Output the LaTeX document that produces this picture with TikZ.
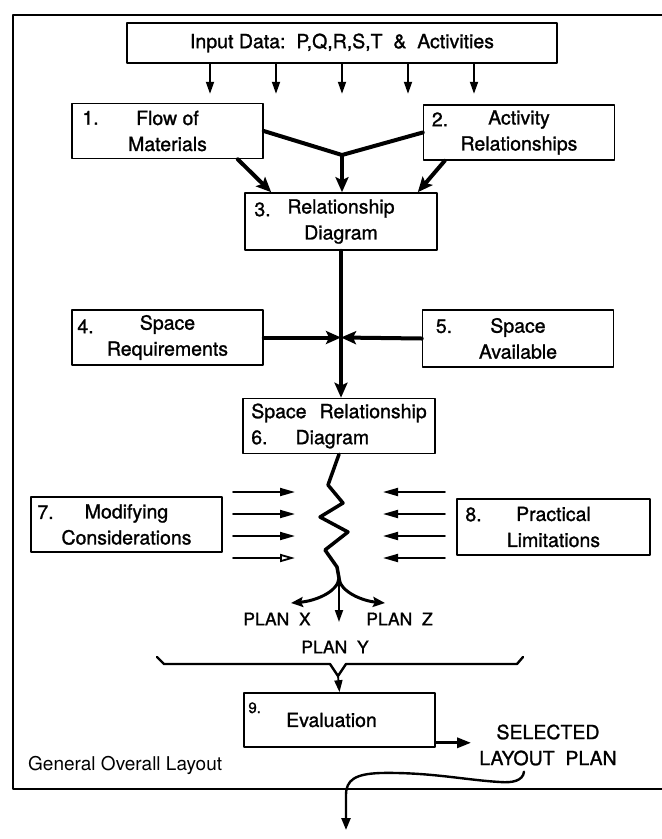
\documentclass[tikz,border=0pt]{standalone}
\usepackage{fontspec}
\setmainfont{TeX Gyre Heros}[FakeBold=1.2]
\newfontfamily\thinfont{TeX Gyre Heros}
\usetikzlibrary{arrows.meta,calc}

\begin{document}
\begin{tikzpicture}[x=1pt,y=-1pt,font=\fontsize{19.5}{26}\selectfont,line join=round,line cap=round,
  box/.style={draw,line width=1.6pt,minimum width=191pt,minimum height=55pt,align=center,inner sep=0pt},
  num/.style={anchor=north west,inner sep=0pt},
  heavy/.style={line width=4pt,-{Stealth[length=15pt,width=13pt,inset=3pt]}},
  branch/.style={line width=3pt,-{Stealth[length=12pt,width=10pt,inset=2pt]}},
  thinarr/.style={line width=1.8pt,-{Triangle[length=12pt,width=8pt]}},
  sidearr/.style={line width=1.8pt,-{Triangle[length=15pt,width=8pt]}},
  plan/.style={font=\fontsize{17.5}{20}\selectfont,inner sep=0pt}]
\useasboundingbox (0,0) rectangle (662,839);
% frame
\draw[line width=2.4pt] (662,15) -| (13,789) -- (662,789);
% input
\node[box,minimum width=430pt,minimum height=40pt] (input) at (342,43) {Input Data:\ \ P,Q,R,S,T\ \ \&\ \ Activities};
\foreach \dx in {-132,-66,0,66,132}
  \draw[thinarr] ([xshift=\dx pt]input.south) -- ++(0,30);
% boxes
\node[box] (flow) at (167.5,131) {Flow of\\Materials};
\node[num] at ($(flow.north west)+(11,8)$) {1.};
\node[box] (actv) at (519,132.5) {Activity\\Relationships};
\node[num] at ($(actv.north west)+(9,8)$) {2.};
\node[box,minimum width=192pt,minimum height=57pt] (reldiag) at (341,221.5) {Relationship\\Diagram};
\node[num] at ($(reldiag.north west)+(10,10)$) {3.};
\node[box] (spreq) at (167.5,337.5) {Space\\Requirements};
\node[num] at ($(spreq.north west)+(6,10)$) {4.};
\node[box,minimum height=57pt] (spav) at (518,338.5) {Space\\Available};
\node[num] at ($(spav.north west)+(14,10)$) {5.};
\node[box,minimum width=192pt,align=left] (srd) at (339,426) {Space\hspace{13pt}Relationship\\6.\hspace{28pt}Diagram};
\node[box] (modc) at (126.5,524.5) {Modifying\\Considerations};
\node[num] at ($(modc.north west)+(7,9)$) {7.};
\node[box,minimum width=193pt,minimum height=56pt] (pract) at (553.5,527) {Practical\\Limitations};
\node[num] at ($(pract.north west)+(9,9)$) {8.};
\node[box,minimum height=54pt] (eval) at (339.5,720) {\hspace*{-16pt}Evaluation};
\node[num,font=\fontsize{15}{17}\selectfont] at ($(eval.north west)+(5,10)$) {9.};
% labels
\node[plan] (planx) at (277,619) {PLAN\ \ X};
\node[plan] (planz) at (399.5,619) {PLAN\ \ Z};
\node[plan] (plany) at (335,647) {PLAN\ \ Y};
\node[align=center,inner sep=0pt] (sel) at (548,745) {SELECTED\\LAYOUT\ \ PLAN};
\node[anchor=base west,inner sep=0pt,font=\thinfont\fontsize{19}{22}\selectfont] (gen) at (28,770) {General Overall Layout};
% connectors
\coordinate (jn) at (342,155);
\draw[line width=4pt] (flow.east) -- (jn) -- (actv.west);
\draw[heavy] (jn) -- (jn |- reldiag.north);
\draw[heavy] ($(flow.south east)+(-26,0)$) -- ($(reldiag.north west)+(27,0)$);
\draw[heavy] ($(actv.south west)+(22,0)$) -- ($(reldiag.north east)+(-20,0)$);
\coordinate (cross) at (reldiag.south |- spreq.east);
\draw[line width=4pt] (reldiag.south) -- (cross);
\draw[heavy] (cross) -- (cross |- srd.north);
\draw[heavy] (spreq.east) -- (cross);
\draw[heavy] (spav.west) -- (cross);
% zigzag and plans
\draw[line width=3.5pt] (srd.south) -- (328,485) -- (343,503) -- (320,517) -- (348,532) -- (325,550) -- (337,567) -- (339,578) coordinate (br);
\draw[branch] (br) .. controls (338,592) and (315,601) .. (291,603);
\draw[branch] (br) .. controls (340,592) and (363,601) .. (385,603);
\draw[thinarr] (br) -- (339,622);
\foreach \yy in {492,514,536} {
  \draw[sidearr] (233,\yy) -- (295,\yy);
  \draw[sidearr] (445,\yy) -- (383,\yy);
}
\draw[line width=1.8pt,-{Triangle[open,length=15pt,width=8pt]}] (233,558) -- (295,558);
\draw[sidearr] (445,558) -- (383,558);
% brace
\draw[line width=2.4pt] (157,657) -- (164,664) -- (330,664) -- (338,676) coordinate (bt) -- (346,664) -- (517,664) -- (523,657);
\draw[thinarr] (bt) -- (eval.north);
% output
\coordinate (eo) at ([yshift=5pt]eval.south east);
\draw[line width=3pt,-{Triangle[length=14pt,width=10pt]}] (eo) -- ($(eo -| sel.west)+(-8,0)$);
\draw[line width=2.4pt,-{Triangle[length=12pt,width=9pt]}] ($(sel.south)+(-24,6)$) .. controls (523,781) and (512,783) .. (500,782)
  .. controls (465,780) and (430,772) .. (380,773) .. controls (355,774) and (346,780) .. (346,795) -- (346,830);
\end{tikzpicture}
\end{document}
